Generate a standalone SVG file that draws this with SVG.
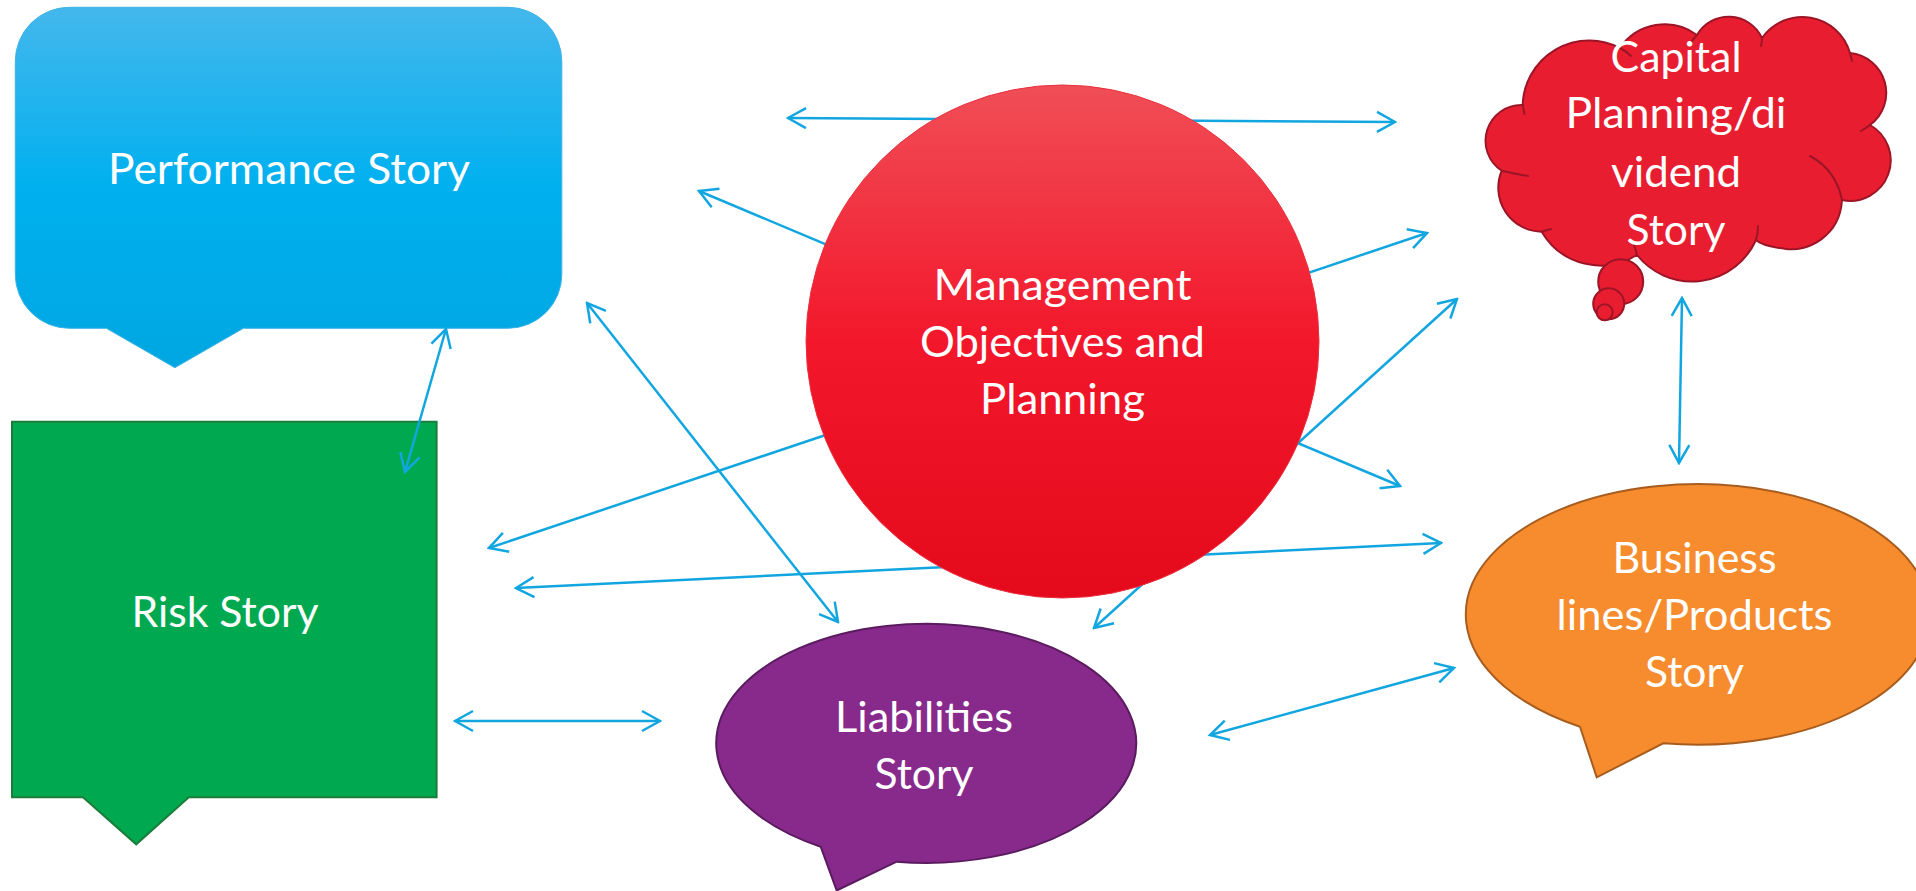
<svg xmlns="http://www.w3.org/2000/svg" width="1916" height="891" viewBox="0 0 1916 891">
  <defs>
    <style>
      .lbl { font-family: Lato, "Open Sans", "Liberation Sans", sans-serif; font-size: 43px; fill: #ffffff; text-anchor: middle; }
      .conn { fill: none; stroke: #12a6e0; stroke-width: 2.5; marker-start: url(#ah); marker-end: url(#ah); }
      .crease { fill: none; stroke: #9c1526; stroke-width: 2; stroke-linecap: round; }
      .bubble { fill: #e81d30; stroke: #9c1526; stroke-width: 2; }
    </style>
    <linearGradient id="gPerf" x1="0" y1="0" x2="0" y2="1">
      <stop offset="0" stop-color="#44b7ec"/>
      <stop offset="0.5" stop-color="#00b0ef"/>
      <stop offset="1" stop-color="#00a7e1"/>
    </linearGradient>
    <linearGradient id="gMgmt" x1="0" y1="0" x2="0" y2="1">
      <stop offset="0" stop-color="#f04e57"/>
      <stop offset="0.5" stop-color="#f3172b"/>
      <stop offset="1" stop-color="#e4091b"/>
    </linearGradient>
    <marker id="ah" viewBox="-22 -13 24 26" refX="0" refY="0" markerWidth="24" markerHeight="26" markerUnits="userSpaceOnUse" orient="auto-start-reverse">
      <path d="M-18,-10 L0,0 L-18,10" fill="none" stroke="#12a6e0" stroke-width="2.5"/>
    </marker>
  </defs>

  <!-- Performance Story: rounded speech box -->
  <g id="performance">
    <path d="M69.3,7.3 H507.8 A54,54 0 0 1 561.8,61.3 V274.3 A54,54 0 0 1 507.8,328.3 H243.4 L174.9,367.7 L106.4,328.3 H69.3 A54,54 0 0 1 15.3,274.3 V61.3 A54,54 0 0 1 69.3,7.3 Z" fill="url(#gPerf)" stroke="#3cb3e6" stroke-width="1"/>
    <text class="lbl" x="289" y="184" textLength="362" lengthAdjust="spacingAndGlyphs">Performance Story</text>
  </g>

  <!-- Risk Story: square speech box -->
  <g id="risk">
    <path d="M12,421.7 H436.6 V797.3 H188.8 L136.2,844.3 L83,797.3 H12 Z" fill="#00a94f" stroke="#1b7d3b" stroke-width="2"/>
    <text class="lbl" x="225" y="627" textLength="187" lengthAdjust="spacingAndGlyphs">Risk Story</text>
  </g>

  <!-- Capital Planning: thought cloud -->
  <g id="capital">
    <path d="M1522.7,105 A66.5,66.5 0 0 1 1620,48 A54,54 0 0 1 1697,35 A36.7,36.7 0 0 1 1762,38 A49.4,49.4 0 0 1 1850,53 A40,40 0 0 1 1870,125 A40.5,40.5 0 0 1 1842,200 C1840,236 1808,252 1786,249 C1770,247 1760,244 1756,240 A70.2,70.2 0 0 1 1637,255 A68.2,68.2 0 0 1 1541.7,231.7 A44,44 0 0 1 1501.7,170.7 A35.8,35.8 0 0 1 1522.7,105 Z" fill="#e81d30" stroke="#9c1526" stroke-width="2"/>
    <path class="crease" d="M1522.7,105 Q1523.5,110 1524.5,114"/>
    <path class="crease" d="M1620,48 Q1626,51 1631,56"/>
    <path class="crease" d="M1697,35 Q1693,39 1690,44"/>
    <path class="crease" d="M1762,38 Q1762,42 1761,46"/>
    <path class="crease" d="M1850,53 Q1851,57 1852,61"/>
    <path class="crease" d="M1870,125 Q1866,128 1861,131"/>
    <path class="crease" d="M1810,156 Q1836,170 1842,200"/>
    <path class="crease" d="M1756,240 Q1758,233 1758,226"/>
    <path class="crease" d="M1637,255 Q1636,250 1634,245"/>
    <path class="crease" d="M1541.7,231.7 Q1546,230 1551,229"/>
    <path class="crease" d="M1501.7,170.7 Q1516,174 1528,176"/>
    <circle class="bubble" cx="1620.7" cy="281.7" r="22.5"/>
    <circle class="bubble" cx="1608.7" cy="303.8" r="15.5"/>
    <circle class="bubble" cx="1604.7" cy="312.3" r="8"/>
    <text class="lbl" x="1676" y="72" textLength="131" lengthAdjust="spacingAndGlyphs">Capital</text>
    <text class="lbl" x="1676" y="128" textLength="221" lengthAdjust="spacingAndGlyphs">Planning/di</text>
    <text class="lbl" x="1676" y="187" textLength="130" lengthAdjust="spacingAndGlyphs">vidend</text>
    <text class="lbl" x="1676" y="245" textLength="99" lengthAdjust="spacingAndGlyphs">Story</text>
  </g>

  <!-- Business lines: oval speech bubble -->
  <g id="business">
    <path d="M1580,726.7 L1596.7,777.3 L1663.3,743.3 A232,130.3 0 1 0 1580,726.7 Z" fill="#f68c2d" stroke="#a85d1f" stroke-width="2"/>
    <text class="lbl" x="1694.5" y="573" textLength="164" lengthAdjust="spacingAndGlyphs">Business</text>
    <text class="lbl" x="1694.5" y="630" textLength="276" lengthAdjust="spacingAndGlyphs">lines/Products</text>
    <text class="lbl" x="1694.5" y="687" textLength="99" lengthAdjust="spacingAndGlyphs">Story</text>
  </g>

  <!-- Liabilities: oval speech bubble -->
  <g id="liabilities">
    <path d="M820.7,846.7 L836.7,890.5 L896.7,861.7 A210,119.5 0 1 0 820.7,846.7 Z" fill="#872a8c" stroke="#5b1b5f" stroke-width="2"/>
    <text class="lbl" x="924" y="732" textLength="178" lengthAdjust="spacingAndGlyphs">Liabilities</text>
    <text class="lbl" x="924" y="789" textLength="99" lengthAdjust="spacingAndGlyphs">Story</text>
  </g>

  <!-- Two-way connectors -->
  <g id="connectors">
    <path class="conn" d="M788,118 L1395,122"/>
    <path class="conn" d="M699,191 L1400,486"/>
    <path class="conn" d="M489,548 L1427,233"/>
    <path class="conn" d="M516,588 L1441,543"/>
    <path class="conn" d="M1457,299 L1094,628"/>
    <path class="conn" d="M587,303 L838,622"/>
    <path class="conn" d="M446,329 L405,472"/>
    <path class="conn" d="M455,721 L660,721"/>
    <path class="conn" d="M1210,735 L1454,668"/>
    <path class="conn" d="M1682,298 L1679,463"/>
  </g>

  <!-- Management Objectives: central circle over the connectors -->
  <g id="management">
    <circle cx="1062.5" cy="341.5" r="256.5" fill="url(#gMgmt)" stroke="#e8303d" stroke-width="1"/>
    <text class="lbl" x="1062.5" y="300" textLength="258" lengthAdjust="spacingAndGlyphs">Management</text>
    <text class="lbl" x="1062.5" y="357" textLength="285" lengthAdjust="spacingAndGlyphs">Objectives and</text>
    <text class="lbl" x="1062.5" y="414" textLength="165" lengthAdjust="spacingAndGlyphs">Planning</text>
  </g>
</svg>
